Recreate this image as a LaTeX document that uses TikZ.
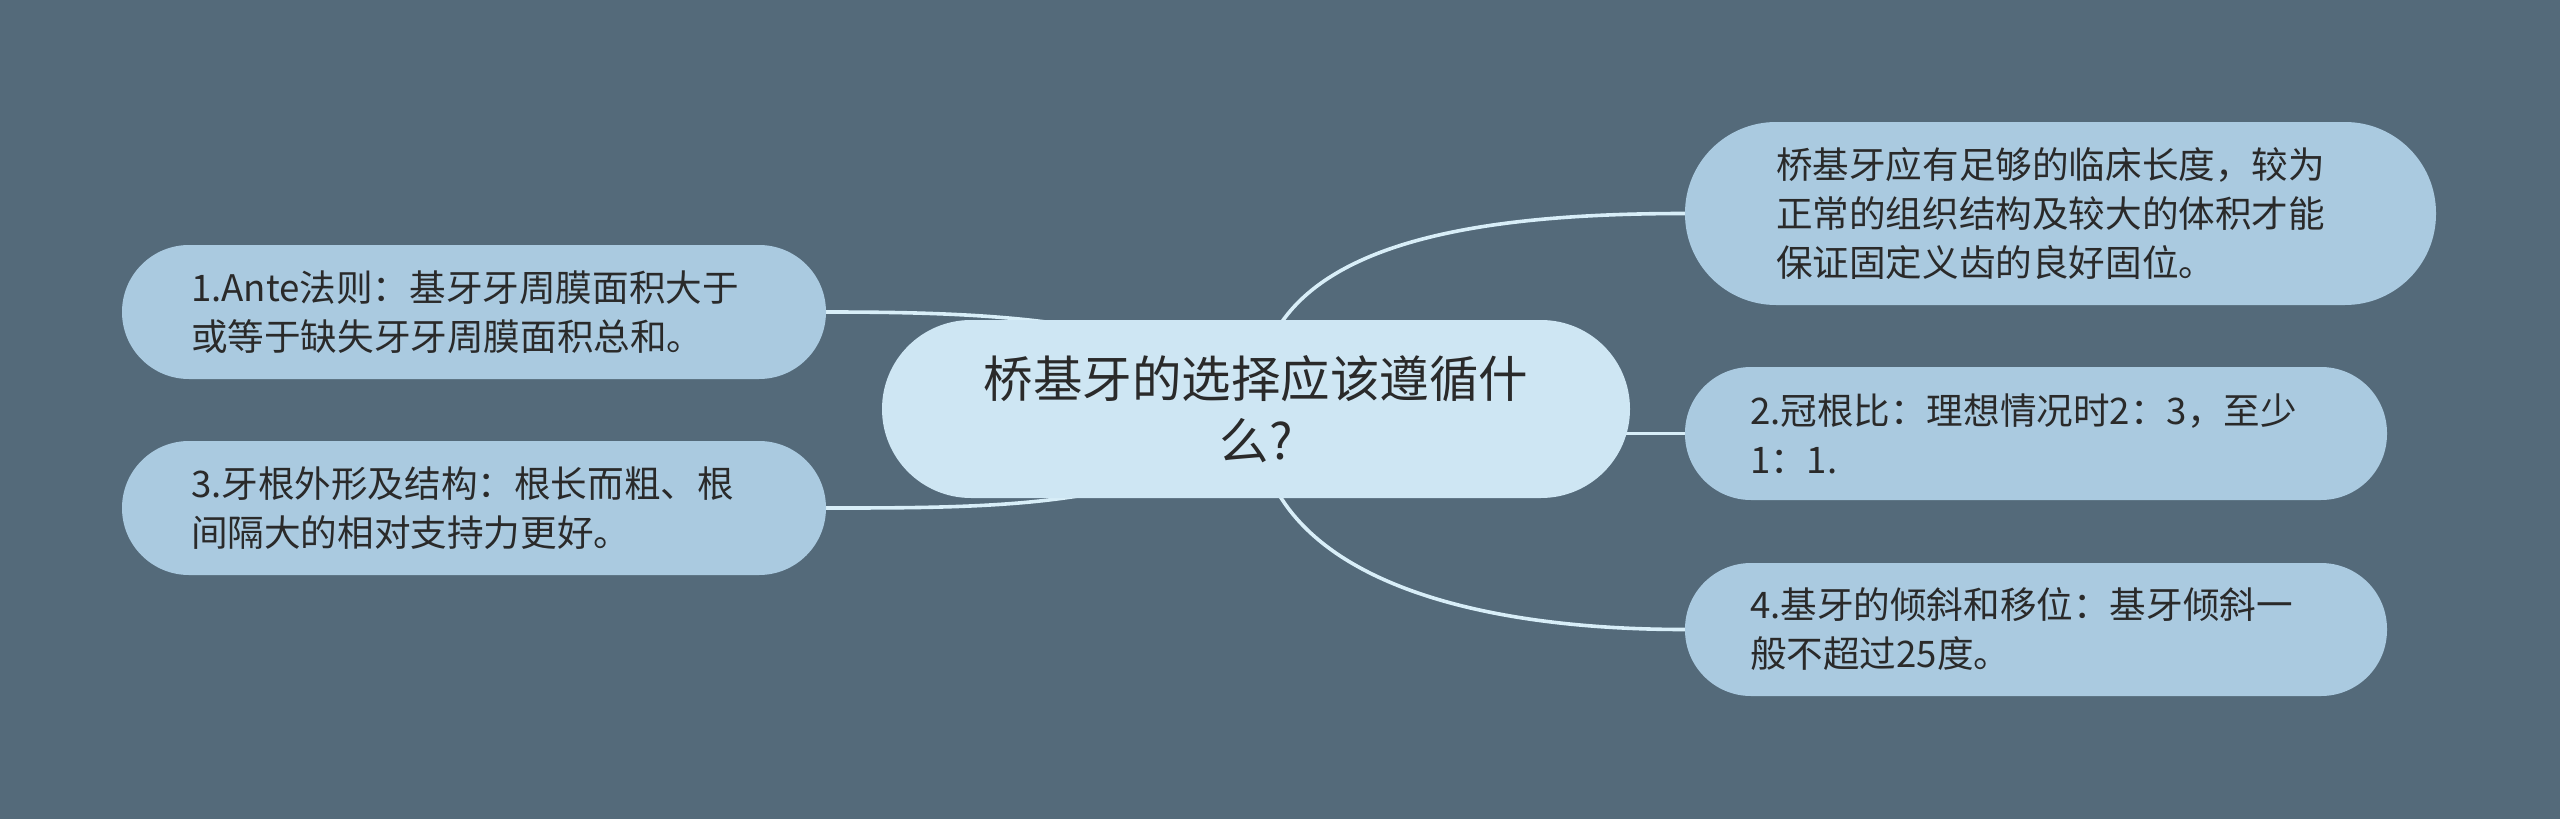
\documentclass[tikz,border=0pt]{standalone}
\usepackage{fontspec}
\setmainfont{Noto Sans CJK SC}
\definecolor{bgc}{HTML}{546A7A}
\definecolor{rootfill}{HTML}{CEE6F3}
\definecolor{childfill}{HTML}{AACAE0}
\definecolor{linec}{HTML}{D8EEF8}
\definecolor{textc}{HTML}{2A2A2A}
\pgfdeclarelayer{bg}
\pgfdeclarelayer{edges}
\pgfsetlayers{bg,edges,main}
\tikzset{
  rootbox/.style={fill=rootfill, text=textc, align=center, inner sep=0pt,
    font=\fontsize{49.5}{62}\selectfont},
  childbox/.style={fill=childfill, text=textc, align=left, inner ysep=0pt,
    font=\fontsize{36.6}{49}\selectfont},
  conn/.style={draw=linec, line width=3.6pt}
}
\begin{document}
\begin{tikzpicture}[x=1pt,y=-1pt]
\begin{pgfonlayer}{bg}
\fill[bgc] (0,0) rectangle (2560,819);
\end{pgfonlayer}
\useasboundingbox (0,0) rectangle (2560,819);

\node[rootbox, minimum width=748pt, minimum height=178pt, rounded corners=89pt] (root) at (1256,409)
  {桥基牙的选择应该遵循什\\么?};

\node[childbox, text width=566pt, inner xsep=69pt, minimum height=134pt, rounded corners=67pt] (n1) at (474,312)
  {1.Ante法则：基牙牙周膜面积大于\\或等于缺失牙牙周膜面积总和。};
\node[childbox, text width=566pt, inner xsep=69pt, minimum height=134pt, rounded corners=67pt] (n3) at (474,508)
  {3.牙根外形及结构：根长而粗、根\\间隔大的相对支持力更好。};

\node[childbox, text width=569pt, inner xsep=91pt, minimum height=183pt, rounded corners=91pt] (nA) at (2060.5,213.5)
  {桥基牙应有足够的临床长度，较为\\正常的组织结构及较大的体积才能\\保证固定义齿的良好固位。};
\node[childbox, text width=572pt, inner xsep=65pt, minimum height=133pt, rounded corners=66pt] (n2) at (2036,433.5)
  {2.冠根比：理想情况时2：3，至少\\1：1.};
\node[childbox, text width=572pt, inner xsep=65pt, minimum height=133pt, rounded corners=66pt] (n4) at (2036,629.5)
  {4.基牙的倾斜和移位：基牙倾斜一\\般不超过25度。};

\begin{pgfonlayer}{edges}
\draw[conn] (root.center) .. controls +(0,-159) and +(-235,0) .. (nA.west);
\draw[conn] (root.center) .. controls +(0,159) and +(-235,0) .. (n4.west);
\draw[conn] (n2.west) -- (n2.west -| root.center);
\draw[conn] (root.center) .. controls +(-76,-89) and +(180,0) .. (n1.east);
\draw[conn] (root.center) .. controls +(-76,99) and +(180,0) .. (n3.east);
\end{pgfonlayer}
\end{tikzpicture}
\end{document}
